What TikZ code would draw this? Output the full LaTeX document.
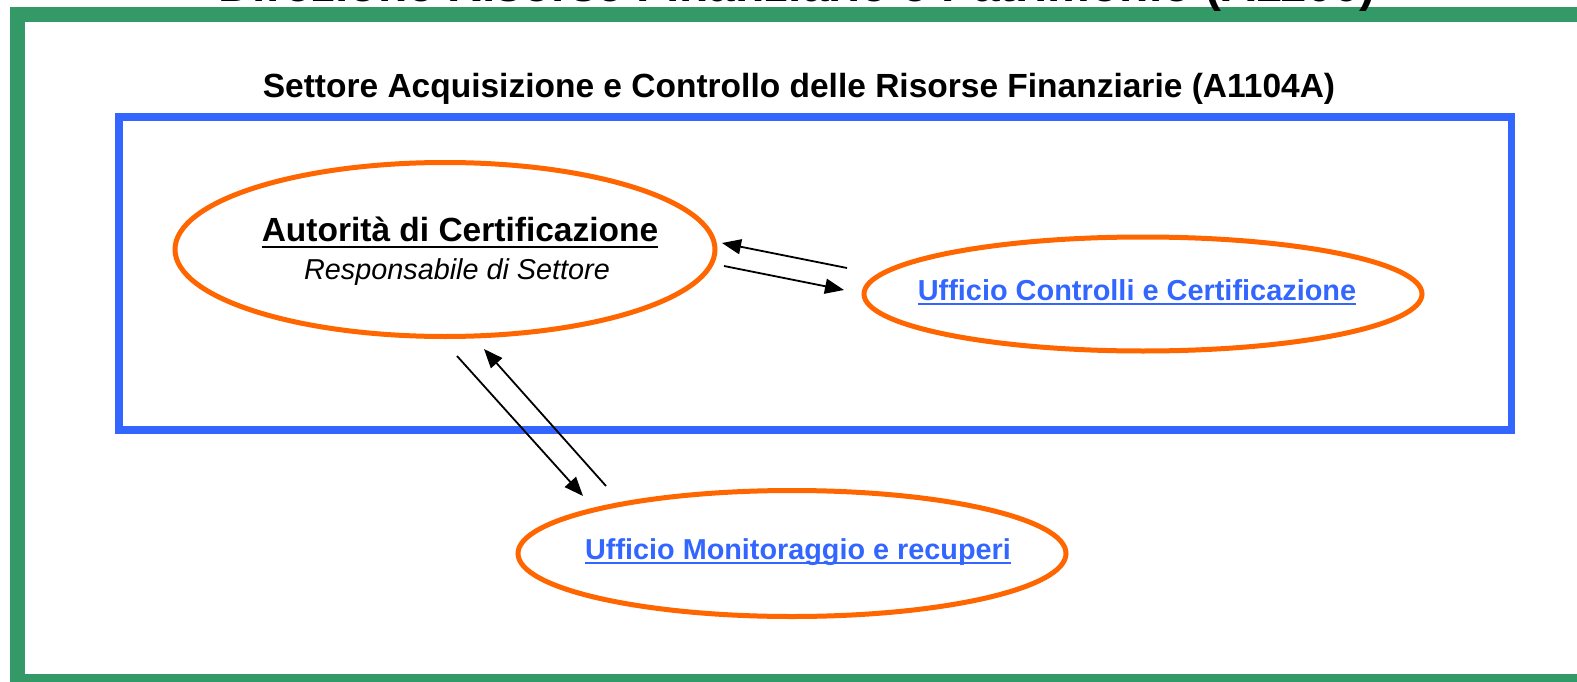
\documentclass[tikz,border=0pt]{standalone}
\usepackage{fontspec}
\setmainfont{Liberation Sans}
\usetikzlibrary{shapes.geometric,arrows.meta}
\definecolor{frameGreen}{HTML}{339966}
\definecolor{boxBlue}{HTML}{3366FF}
\definecolor{ovalOrange}{HTML}{FF6600}
\definecolor{linkBlue}{HTML}{3366FF}
\tikzset{
  oval/.style={ellipse, draw=ovalOrange, line width=5pt, inner sep=0pt},
  lbl/.style={inner sep=0pt, anchor=base},
  flow/.style={line width=1.8pt, -{Triangle[length=19pt,width=15pt]}},
  uline/.style={line width=2.5pt},
}
\begin{document}
\begin{tikzpicture}[x=1pt,y=-1pt]
\useasboundingbox (0,0) rectangle (1577,682);
% outer green frame
\draw[frameGreen, line width=15pt] (1650,14.5) -- (17,14.5) -- (17,681.5) -- (1650,681.5);
% title (cut off at top)
\node[lbl] (title) at (797,2) {\fontsize{48}{56}\selectfont\bfseries Direzione Risorse Finanziarie e Patrimonio (A1100)};
% subtitle
\node[lbl] (sub) at (799,98) {\fontsize{33.5}{40}\selectfont\bfseries Settore Acquisizione e Controllo delle Risorse Finanziarie (A1104A)};
% blue box
\draw[boxBlue, line width=7.5pt] (119,117) rectangle (1511.5,430);
% ellipses
\node[oval, minimum width=540pt, minimum height=174pt] (ac) at (445,249.5) {};
\node[oval, minimum width=558pt, minimum height=114pt] (ucc) at (1143,294) {};
\node[oval, minimum width=548pt, minimum height=126pt] (umr) at (792,553.5) {};
% texts
\node[lbl] (acT) at (460,241) {\fontsize{33.5}{40}\selectfont\bfseries Autorità di Certificazione};
\draw[uline] ([yshift=-6]acT.base west) -- ([yshift=-6]acT.base east);
\node[lbl] (acS) at (457,279) {\fontsize{28.8}{34}\selectfont\itshape Responsabile di Settore};
\node[lbl, text=linkBlue] (uccT) at (1137,300) {\fontsize{28.9}{34}\selectfont\bfseries Ufficio Controlli e Certificazione};
\draw[uline, linkBlue] ([yshift=-4]uccT.base west) -- ([yshift=-4]uccT.base east);
\node[lbl, text=linkBlue] (umrT) at (798,559) {\fontsize{28.8}{34}\selectfont\bfseries Ufficio Monitoraggio e recuperi};
\draw[uline, linkBlue] ([yshift=-4]umrT.base west) -- ([yshift=-4]umrT.base east);
% arrow end points
\coordinate (a1s) at (847,268);
\coordinate (a1e) at (722,243);
\coordinate (a2s) at (724,266);
\coordinate (a2e) at (844,290);
\coordinate (a3s) at (457,356);
\coordinate (a3e) at (583,496);
\coordinate (a4s) at (606,486);
\coordinate (a4e) at (484,349);
\draw[flow] (a1s) -- (a1e);
\draw[flow] (a2s) -- (a2e);
\draw[flow] (a3s) -- (a3e);
\draw[flow] (a4s) -- (a4e);
\end{tikzpicture}
\end{document}
